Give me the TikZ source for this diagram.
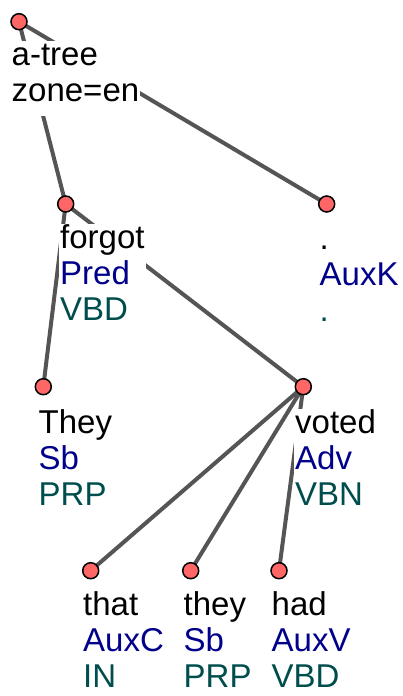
\documentclass[tikz,border=0pt]{standalone}
\usepackage{fontspec}
\setmainfont{Liberation Sans}
\definecolor{afun}{RGB}{0,0,139}
\definecolor{tagc}{RGB}{0,77,77}
\definecolor{edgec}{RGB}{85,85,85}
\definecolor{dotc}{RGB}{255,102,102}
\newcommand{\topst}{\rule{0pt}{24.5pt}}
\newcommand{\botst}{\rule[-15pt]{0pt}{15pt}}
\begin{document}
\begin{tikzpicture}[x=1pt,y=-1pt,
  dot/.style={circle,draw=black,fill=dotc,line width=1.5pt,minimum size=16pt,inner sep=0pt},
  lbl/.style={anchor=north west,fill=white,inner xsep=1pt,inner ysep=0pt,align=left,
    font=\fontsize{33}{36}\selectfont},
  edge/.style={draw=edgec,line width=4pt}]
\useasboundingbox (0,0) rectangle (403,696);
% circles (coordinates)
\coordinate (r) at (19,21.7);
\coordinate (f) at (65.7,204);
\coordinate (p) at (326.7,204);
\coordinate (T) at (43.3,386.7);
\coordinate (v) at (303.3,386.7);
\coordinate (a) at (90.7,570.7);
\coordinate (b) at (190.7,570.7);
\coordinate (c) at (279,570.7);
% edges
\draw[edge] (r) -- (f);
\draw[edge] (r) -- (p);
\draw[edge] (f) -- (T);
\draw[edge] (f) -- (v);
\draw[edge] (v) -- (a);
\draw[edge] (v) -- (b);
\draw[edge] (v) -- (c);
% labels
\node[lbl] (lr) at (10.5,40.5) {\topst a-tree\\zone=en\botst};
\node[lbl] (lf) at (59,223.5) {\topst forgot\\\textcolor{afun}{Pred}\\\textcolor{tagc}{VBD}\botst};
\node[lbl] (lp) at (318.5,225.2) {\topst .\\\textcolor{afun}{AuxK}\\\textcolor{tagc}{.}\botst};
\node[lbl] (lT) at (37.5,408.8) {\topst They\\\textcolor{afun}{Sb}\\\textcolor{tagc}{PRP}\botst};
\node[lbl] (lv) at (294,408.5) {\topst voted\\\textcolor{afun}{Adv}\\\textcolor{tagc}{VBN}\botst};
\node[lbl] (la) at (82,590.5) {\topst that\\\textcolor{afun}{AuxC}\\\textcolor{tagc}{IN}\botst};
\node[lbl] (lb) at (182.5,590.5) {\topst they\\\textcolor{afun}{Sb}\\\textcolor{tagc}{PRP}\botst};
\node[lbl] (lc) at (270.5,590.5) {\topst had\\\textcolor{afun}{AuxV}\\\textcolor{tagc}{VBD}\botst};
% dots
\node[dot] (nr) at (r) {};
\node[dot] (nf) at (f) {};
\node[dot] (np) at (p) {};
\node[dot] (nT) at (T) {};
\node[dot] (nv) at (v) {};
\node[dot] (na) at (a) {};
\node[dot] (nb) at (b) {};
\node[dot] (nc) at (c) {};
\end{tikzpicture}
\end{document}
